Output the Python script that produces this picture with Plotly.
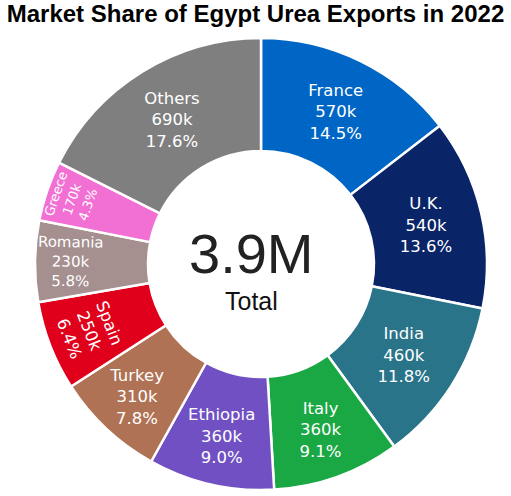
import plotly.graph_objects as go

countries = ["France", "U.K.", "India", "Italy", "Ethiopia", "Turkey", "Spain", "Romania", "Greece", "Others"]
exports_kt = [571, 536, 464, 358, 354, 307, 252, 228, 169, 692]
value_labels = ["570k", "540k", "460k", "360k", "360k", "310k", "250k", "230k", "170k", "690k"]
colors = ["#0066c6", "#0a2468", "#2a7489", "#1aa844", "#7150c4", "#b07254", "#e0001b",
          "#a68f8f", "#f26fd4", "#7f7f7f"]

fig = go.Figure(go.Pie(
    labels=countries,
    values=exports_kt,
    customdata=value_labels,
    hole=0.5,
    sort=False,
    direction="clockwise",
    rotation=0,
    marker=dict(colors=colors, line=dict(color="white", width=2.5)),
    texttemplate="%{label}<br>%{customdata}<br>%{percent:.1%}",
    textposition="inside",
    insidetextorientation="auto",
    textfont=dict(family="DejaVu Sans", size=16.5, color="white"),
    showlegend=False,
))

fig.add_annotation(text="3.9M", x=0.4796, y=0.5228, xref="paper", yref="paper", showarrow=False,
                   font=dict(family="Liberation Sans, Arial", size=56, color="#222222"))
fig.add_annotation(text="Total", x=0.4796, y=0.4177, xref="paper", yref="paper", showarrow=False,
                   font=dict(family="Liberation Sans, Arial", size=25, color="#111111"))

fig.update_layout(
    width=511, height=496,
    title=dict(text="<b>Market Share of Egypt Urea Exports in 2022</b>",
               x=0.5, xanchor="center", y=0.99, yanchor="top",
               font=dict(family="Liberation Sans, Arial", size=24, color="black")),
    margin=dict(l=35, r=24, t=38, b=6),
    paper_bgcolor="white",
)

# page body has a default 8px margin; drop it so the figure sits at the window corner
fig.write_html("out.html", config={"displayModeBar": False},
               post_script="document.body.style.margin='0';")
